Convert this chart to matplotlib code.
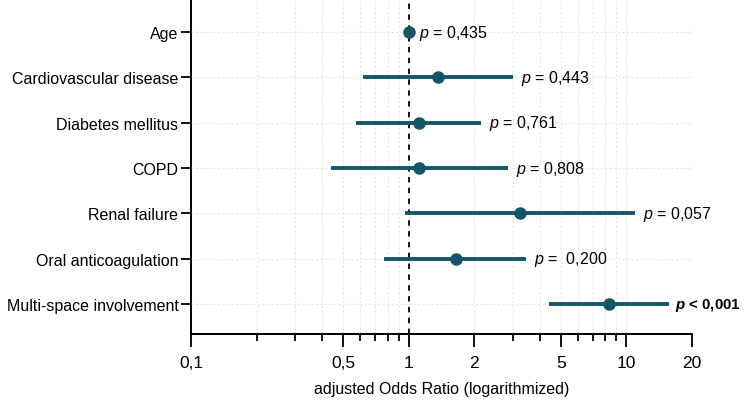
import matplotlib
matplotlib.use('Agg')
import matplotlib.pyplot as plt
from matplotlib.ticker import FixedLocator, NullFormatter
import numpy as np

plt.rcParams['font.family'] = ['Liberation Sans', 'DejaVu Sans']
plt.rcParams['mathtext.fontset'] = 'custom'
plt.rcParams['mathtext.rm'] = 'Liberation Sans'
plt.rcParams['mathtext.it'] = 'Liberation Sans:italic'
plt.rcParams['mathtext.bf'] = 'Liberation Sans:bold'
plt.rcParams['mathtext.bfit'] = 'Liberation Sans:bold:italic'

variables = ['Age', 'Cardiovascular disease', 'Diabetes mellitus', 'COPD',
             'Renal failure', 'Oral anticoagulation', 'Multi-space involvement']
odds = [1.0, 1.36, 1.11, 1.12, 3.25, 1.64, 8.3]
ci_low = [0.98, 0.615, 0.57, 0.44, 0.965, 0.77, 4.4]
ci_high = [1.02, 3.0, 2.14, 2.85, 10.9, 3.45, 15.7]
p_labels = [r'$\mathit{p}$ = 0,435', r'$\mathit{p}$ = 0,443', r'$\mathit{p}$ = 0,761',
            r'$\mathit{p}$ = 0,808', r'$\mathit{p}$ = 0,057', r'$\mathit{p}$ =  0,200',
            r'$\mathbfit{p}$ < 0,001']
p_bold = [False, False, False, False, False, False, True]

major_ticks = [0.1, 0.5, 1, 2, 5, 10, 20]
major_labels = ['0,1', '0,5', '1', '2', '5', '10', '20']
minor_ticks = [0.2, 0.3, 0.4, 0.6, 0.7, 0.8, 0.9, 3, 4, 6, 7, 8, 9]

col = '#135667'

fig = plt.figure(figsize=(7.44, 4.02), dpi=100)
ax = fig.add_axes([191 / 744, 67 / 402, 501 / 744, 335 / 402])

y = np.arange(len(variables))[::-1] + 1

for yi, v, lo, hi, lab, b in zip(y, odds, ci_low, ci_high, p_labels, p_bold):
    ax.plot([lo, hi], [yi, yi], color=col, lw=2.8, solid_capstyle='butt', zorder=3)
    ax.plot(v, yi, 'o', color=col, markersize=8, zorder=4)
    ax.annotate(lab, xy=(max(hi, v), yi), xytext=(4 if b else 6, 0),
                textcoords='offset points', va='center', ha='left',
                fontsize=10.8 if b else 11.5,
                fontweight='bold' if b else 'normal', annotation_clip=False)

ax.axvline(1, color='black', lw=1.3, ls=(0, (3, 3)), zorder=2)

ax.set_xscale('log')
ax.set_xlim(0.1, 20)
ax.set_ylim(0.34, 7.73)
ax.xaxis.set_major_locator(FixedLocator(major_ticks))
ax.set_xticklabels(major_labels, fontsize=12.5)
ax.xaxis.set_minor_locator(FixedLocator(minor_ticks))
ax.xaxis.set_minor_formatter(NullFormatter())
ax.set_yticks(y)
ax.set_yticklabels(variables, fontsize=11.5)
ax.tick_params(axis='x', which='major', length=9, width=1.3, pad=6)
ax.tick_params(axis='x', which='minor', length=5, width=1.3)
ax.tick_params(axis='y', length=7, width=1.3, pad=2)

ax.grid(True, which='both', axis='x', color='#e6e6e6', lw=0.8, ls=(0, (2, 2)), zorder=0)
ax.grid(True, which='major', axis='y', color='#e6e6e6', lw=0.8, ls=(0, (2, 2)), zorder=0)

for s in ['top', 'right']:
    ax.spines[s].set_visible(False)
for s in ['left', 'bottom']:
    ax.spines[s].set_linewidth(1.4)

ax.set_xlabel('adjusted Odds Ratio (logarithmized)', fontsize=11.5, labelpad=8)

fig.savefig('out.png', dpi=100)
